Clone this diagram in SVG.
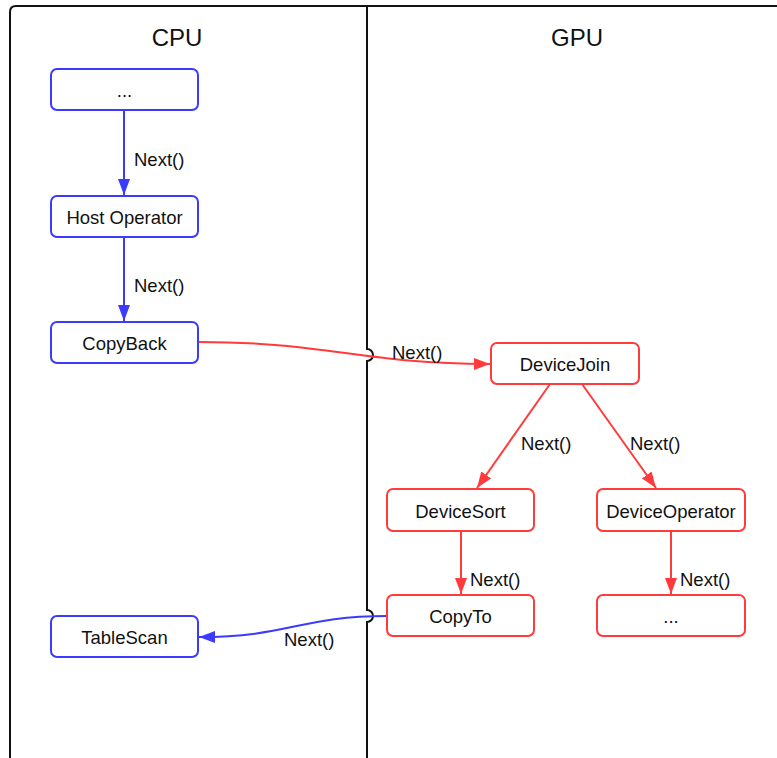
<svg xmlns="http://www.w3.org/2000/svg" width="777" height="758" viewBox="0 0 777 758">
  <style>
    text { font-family: "Liberation Sans", Arial, sans-serif; fill: #111; }
    .title { font-size: 24px; text-anchor: middle; }
    .lbl { font-size: 18.5px; }
    .nt { font-size: 18.5px; text-anchor: middle; }
    .host rect { fill: #fff; stroke: #3b3bff; stroke-width: 2; }
    .dev rect { fill: #fff; stroke: #ff3b3b; stroke-width: 2; }
    .frame { fill: none; stroke: #111; stroke-width: 2; }
    .eb { fill: none; stroke: #3b3bff; stroke-width: 2; }
    .er { fill: none; stroke: #ff3b3b; stroke-width: 2; }
  </style>
  <defs>
    <marker id="ab" viewBox="0 0 16 12" refX="16" refY="6" markerWidth="16" markerHeight="12" markerUnits="userSpaceOnUse" orient="auto">
      <path d="M0,0 L16,6 L0,12 Z" fill="#3b3bff"/>
    </marker>
    <marker id="ar" viewBox="0 0 16 12" refX="16" refY="6" markerWidth="16" markerHeight="12" markerUnits="userSpaceOnUse" orient="auto">
      <path d="M0,0 L16,6 L0,12 Z" fill="#ff3b3b"/>
    </marker>
  </defs>
  <rect width="777" height="758" fill="#fff"/>

  <!-- swimlane frame with jump bumps where the connectors cross the divider -->
  <g id="lanes">
    <path class="frame" d="M10,758 V12 Q10,6 16,6 H777"/>
    <path class="frame" d="M367,6 V349 A6,6 0 0 1 367,361 V610 A6,6 0 0 1 367,622 V758"/>
    <text class="title" x="177" y="46">CPU</text>
    <text class="title" x="577" y="46">GPU</text>
  </g>

  <g id="connectors">
    <path class="eb" d="M124,110 V195" marker-end="url(#ab)"/>
    <path class="eb" d="M124,237 V321" marker-end="url(#ab)"/>
    <path class="er" d="M198,342 C330,342 360,364 490,364" marker-end="url(#ar)"/>
    <path class="er" d="M550,384 L477,488" marker-end="url(#ar)"/>
    <path class="er" d="M582,384 L656,488" marker-end="url(#ar)"/>
    <path class="er" d="M461,531 V594" marker-end="url(#ar)"/>
    <path class="er" d="M671,531 V594" marker-end="url(#ar)"/>
    <path class="eb" d="M387,616 C300,616 290,637 199,637" marker-end="url(#ab)"/>
    <text class="lbl" x="134" y="166">Next()</text>
    <text class="lbl" x="134" y="292">Next()</text>
    <text class="lbl" x="392" y="359">Next()</text>
    <text class="lbl" x="521" y="450">Next()</text>
    <text class="lbl" x="630" y="450">Next()</text>
    <text class="lbl" x="470" y="586">Next()</text>
    <text class="lbl" x="680" y="586">Next()</text>
    <text class="lbl" x="284" y="646">Next()</text>
  </g>

  <g id="cpu-more" class="host">
    <rect x="51" y="69" width="147" height="41" rx="6"/>
    <text class="nt" x="124.5" y="97">...</text>
  </g>
  <g id="host-operator" class="host">
    <rect x="51" y="196" width="147" height="41" rx="6"/>
    <text class="nt" x="124.5" y="224">Host Operator</text>
  </g>
  <g id="copyback" class="host">
    <rect x="51" y="322" width="147" height="41" rx="6"/>
    <text class="nt" x="124.5" y="350">CopyBack</text>
  </g>
  <g id="tablescan" class="host">
    <rect x="51" y="616" width="147" height="41" rx="6"/>
    <text class="nt" x="124.5" y="644">TableScan</text>
  </g>
  <g id="devicejoin" class="dev">
    <rect x="491" y="343" width="148" height="41" rx="6"/>
    <text class="nt" x="565" y="371">DeviceJoin</text>
  </g>
  <g id="devicesort" class="dev">
    <rect x="387" y="489" width="147" height="42" rx="6"/>
    <text class="nt" x="460.5" y="518">DeviceSort</text>
  </g>
  <g id="deviceoperator" class="dev">
    <rect x="597" y="489" width="148" height="42" rx="6"/>
    <text class="nt" x="671" y="518">DeviceOperator</text>
  </g>
  <g id="copyto" class="dev">
    <rect x="387" y="595" width="147" height="41" rx="6"/>
    <text class="nt" x="460.5" y="623">CopyTo</text>
  </g>
  <g id="gpu-more" class="dev">
    <rect x="597" y="595" width="148" height="41" rx="6"/>
    <text class="nt" x="671" y="623">...</text>
  </g>
</svg>
